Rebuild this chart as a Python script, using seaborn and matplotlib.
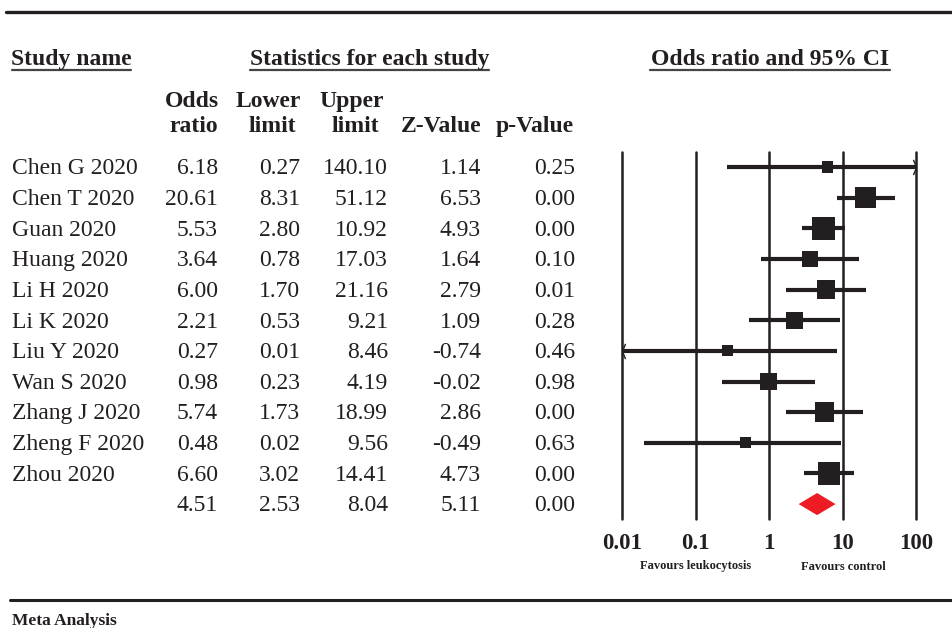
import matplotlib
matplotlib.use("Agg")
import matplotlib.pyplot as plt
import seaborn as sns
import numpy as np
import pandas as pd
from matplotlib.path import Path
from matplotlib.lines import Line2D
from matplotlib.transforms import blended_transform_factory, ScaledTranslation

# ---- data -------------------------------------------------------------
studies = ["Chen G 2020", "Chen T 2020", "Guan 2020", "Huang 2020", "Li H 2020",
           "Li K 2020", "Liu Y 2020", "Wan S 2020", "Zhang J 2020",
           "Zheng F 2020", "Zhou 2020"]
odds_ratio = [6.18, 20.61, 5.53, 3.64, 6.00, 2.21, 0.27, 0.98, 5.74, 0.48, 6.60]
lower_limit = [0.27, 8.31, 2.80, 0.78, 1.70, 0.53, 0.01, 0.23, 1.73, 0.02, 3.02]
upper_limit = [140.10, 51.12, 10.92, 17.03, 21.16, 9.21, 8.46, 4.19, 18.99, 9.56, 14.41]
z_value = [1.14, 6.53, 4.93, 1.64, 2.79, 1.09, -0.74, -0.02, 2.86, -0.49, 4.73]
p_value = [0.25, 0.00, 0.00, 0.10, 0.01, 0.28, 0.46, 0.98, 0.00, 0.63, 0.00]
rel_weight = [3.6, 13.2, 15.9, 7.7, 9.7, 8.7, 3.6, 8.7, 10.8, 3.6, 14.5]

pooled_or = 4.51
pooled_lower = 2.53
pooled_upper = 8.04
pooled_z = 5.11
pooled_p = 0.00

axis_ticks = [0.01, 0.1, 1, 10, 100]
axis_labels = ["0.01", "0.1", "1", "10", "100"]

df = pd.DataFrame({"study": studies, "or": odds_ratio, "lo": lower_limit,
                   "hi": upper_limit, "z": z_value, "p": p_value,
                   "w": rel_weight})
df["row"] = np.arange(len(df))
pooled_row = len(df)

# ---- style ------------------------------------------------------------
sns.set_style("white")
plt.rcParams["font.family"] = ["Liberation Serif", "DejaVu Serif"]
INK = "#231f20"
RED = "#ed1c24"

W, H = 952, 628
fig = plt.figure(figsize=(W / 100, H / 100), dpi=100)


def fx(px):
    return px / W


def fy(py):
    return 1 - py / H


# forest panel
top_px, bot_px = 151.7, 519.4
ax = fig.add_axes([fx(622), fy(bot_px), fx(916) - fx(622), fy(top_px) - fy(bot_px)])
ax.set_xscale("log")
xmin, xmax = axis_ticks[0], axis_ticks[-1]
ax.set_xlim(xmin, xmax)
ax.set_ylim(pooled_row + 0.5, -0.5)
for s in ax.spines.values():
    s.set_visible(False)
ax.set_yticks([])
ax.set_xticks(axis_ticks)
ax.set_xticklabels(axis_labels, fontsize=16.5, fontweight="bold", color=INK)
ax.xaxis.set_minor_locator(matplotlib.ticker.NullLocator())
ax.tick_params(axis="x", length=0, pad=10)

for t in axis_ticks:
    ax.axvline(t, color=INK, lw=1.8, zorder=1, clip_on=False)

# confidence intervals, clipped to the axis range
lo_c = np.clip(df["lo"], xmin, xmax)
hi_c = np.clip(df["hi"], xmin, xmax)
ax.hlines(df["row"], lo_c, hi_c, color=INK, lw=3.0, zorder=2)

right_arrow = Path([(-0.4, 1), (0, 0), (-0.4, -1)], [Path.MOVETO, Path.LINETO, Path.LINETO])
left_arrow = Path([(0.4, 1), (0, 0), (0.4, -1)], [Path.MOVETO, Path.LINETO, Path.LINETO])
for _, r in df.iterrows():
    if r["hi"] > xmax:
        ax.plot([xmax], [r["row"]], marker=right_arrow, ms=11, mfc="none",
                mec=INK, mew=1.0, zorder=3, clip_on=False)
    if r["lo"] <= xmin:
        ax.plot([xmin], [r["row"]], marker=left_arrow, ms=11, mfc="none",
                mec=INK, mew=1.0, zorder=3, clip_on=False)

# study weight squares
side_pt = 5.9 * np.sqrt(df["w"].to_numpy()) * 0.72
sns.scatterplot(data=df, x="or", y="row", marker="s", s=side_pt ** 2,
                color=INK, linewidth=0, legend=False, ax=ax, zorder=4)
ax.set_xlabel("")
ax.set_ylabel("")

# pooled estimate diamond
dh = 0.36
ax.fill([pooled_lower, pooled_or, pooled_upper, pooled_or],
        [pooled_row, pooled_row - dh, pooled_row, pooled_row + dh],
        color=RED, lw=0, zorder=4)

# ---- table ------------------------------------------------------------
# text baselines sit a few pixels below each row centre
tr = blended_transform_factory(fig.transFigure, ax.transData) + \
    ScaledTranslation(0, -7.3 / 100, fig.dpi_scale_trans)
fs = 17
cols = [(218, "or"), (300, "lo"), (388, "hi"), (481, "z"), (575, "p")]
for _, r in df.iterrows():
    fig.text(fx(12), r["row"], r["study"], transform=tr, ha="left",
             va="baseline", fontsize=fs, color=INK)
    for xr, key in cols:
        fig.text(fx(xr), r["row"], f"{r[key]:.2f}", transform=tr, ha="right",
                 va="baseline", fontsize=fs, color=INK)
for xr, v in zip([c[0] for c in cols],
                 [pooled_or, pooled_lower, pooled_upper, pooled_z, pooled_p]):
    fig.text(fx(xr), pooled_row, f"{v:.2f}", transform=tr, ha="right",
             va="baseline", fontsize=fs, color=INK)

# column headers
hdr = dict(fontsize=fs, fontweight="bold", color=INK, va="baseline")
fig.text(fx(192), fy(107), "Odds", ha="center", **hdr)
fig.text(fx(194), fy(132), "ratio", ha="center", **hdr)
fig.text(fx(268), fy(107), "Lower", ha="center", **hdr)
fig.text(fx(272), fy(132), "limit", ha="center", **hdr)
fig.text(fx(352), fy(107), "Upper", ha="center", **hdr)
fig.text(fx(355), fy(132), "limit", ha="center", **hdr)
fig.text(fx(441), fy(132), "Z-Value", ha="center", **hdr)
fig.text(fx(535), fy(132), "p-Value", ha="center", **hdr)

# section titles with underlines
titles = [(12, 131, "Study name"), (250, 489, "Statistics for each study"),
          (650, 890, "Odds ratio and 95% CI")]
for x0, x1, label in titles:
    fig.text(fx((x0 + x1) / 2), fy(65), label, ha="center", **hdr)
    fig.add_artist(Line2D([fx(x0), fx(x1)], [fy(69.5), fy(69.5)],
                          color="#444444", lw=1.6))

# favours labels
fig.text(fx(696), fy(569.5), "Favours leukocytosis", ha="center", va="baseline",
         fontsize=9, fontweight="bold", color=INK)
fig.text(fx(843), fy(569.5), "Favours control", ha="center", va="baseline",
         fontsize=9, fontweight="bold", color=INK)

# frame rules and footer
fig.add_artist(Line2D([fx(6), 1], [fy(12), fy(12)], color=INK, lw=2.4))
fig.add_artist(Line2D([fx(10), 1], [fy(600), fy(600)], color=INK, lw=2.2))
fig.text(fx(12), fy(625), "Meta Analysis", ha="left", va="baseline",
         fontsize=12.5, fontweight="bold", color=INK)

fig.savefig("out.png", dpi=100)
